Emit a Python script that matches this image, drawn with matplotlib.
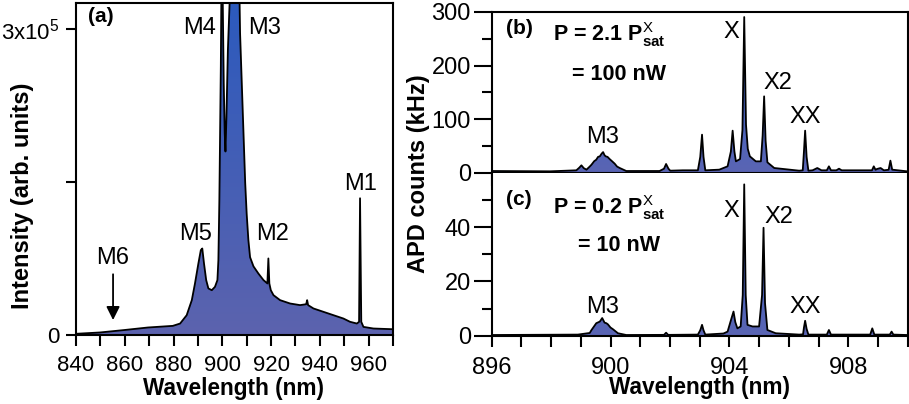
import numpy as np
import matplotlib
matplotlib.use("Agg")
import matplotlib.pyplot as plt
from matplotlib.colors import LinearSegmentedColormap

plt.rcParams['font.family'] = 'Liberation Sans'
plt.rcParams['mathtext.fontset'] = 'custom'
plt.rcParams['mathtext.rm'] = 'Liberation Sans'
plt.rcParams['mathtext.bf'] = 'Liberation Sans:bold'
plt.rcParams['mathtext.it'] = 'Liberation Sans:italic'

# (a) spectre large : longueur d'onde (nm) et intensité (milliers de coups)
longueur_a = [840.0, 849.8, 859.4, 869.5, 879.7, 882.7, 885.4, 887.5, 888.8, 890.2,
              891.2, 891.8, 892.5, 893.4, 894.3, 895.7, 897.0, 898.0, 898.4, 898.8,
              899.4, 899.9, 900.2, 900.6, 901.0, 901.3, 901.7, 902.3, 903.0, 903.6,
              905.0, 906.6, 907.1, 907.3, 908.0, 908.7, 909.4, 910.0, 910.7, 911.4,
              912.8, 914.8, 916.9, 918.5, 918.9, 919.3, 919.9, 921.0, 923.7, 927.8,
              931.9, 934.4, 934.8, 935.2, 937.4, 941.5, 945.6, 949.7, 952.4, 955.2,
              956.1, 956.5, 957.0, 957.9, 962.0, 970.0]
intensite_a = [0.7, 2.0, 4.3, 6.9, 8.5, 10.8, 19.0, 33.8, 50.2, 69.9,
               83.0, 84.6, 69.9, 53.5, 45.3, 43.6, 46.9, 53.5, 73.1, 132,
               263, 420, 326, 247, 198, 180, 214, 280, 326, 380,
               480, 380, 326, 296, 247, 198, 149, 119, 93, 76,
               67, 60, 53.5, 50.2, 74.8, 50.2, 43.6, 38.7, 33.8, 30.5,
               28.9, 29.8, 33.8, 28.9, 25.6, 22.3, 19.0, 15.7, 12.5, 10.8,
               12.5, 134, 12.5, 7.5, 5.9, 5.2]

# (b) P = 2.1 Psat : comptes APD (kHz)
longueur_b = [896.0, 897.96, 898.85, 898.95, 899.02, 899.10, 899.19, 899.30, 899.36, 899.45,
              899.52, 899.58, 899.64, 899.70, 899.75, 899.80, 899.84, 899.90, 899.97, 900.05,
              900.14, 900.22, 900.31, 900.53, 901.65, 901.80, 901.87, 901.95, 902.01, 902.43,
              902.94, 903.02, 903.08, 903.13, 903.19, 903.66, 903.94, 904.05, 904.11, 904.17,
              904.22, 904.36, 904.44, 904.50, 904.56, 904.62, 904.69, 904.89, 905.06, 905.12,
              905.17, 905.22, 905.28, 905.51, 906.35, 906.47, 906.51, 906.55, 906.60, 906.66,
              906.80, 906.96, 907.10, 907.28, 907.35, 907.42, 907.60, 907.69, 907.78, 908.58,
              908.80, 908.86, 908.92, 908.97, 909.09, 909.20, 909.36, 909.42, 909.48, 909.98]
apd_b = [3.7, 3.1, 5.0, 10.0, 14.3, 9.0, 6.2, 12.0, 15.5, 22.0,
         24.8, 30.0, 31.0, 36.0, 39.0, 33.0, 31.0, 30.0, 26.0, 22.0,
         17.4, 12.0, 9.3, 3.7, 3.7, 8.0, 16.8, 8.0, 4.3, 5.0,
         5.0, 30.0, 71.4, 30.0, 5.0, 6.2, 12.4, 40.0, 78.9, 40.0,
         21.7, 26.0, 80.0, 290.6, 90.0, 45.0, 31.0, 21.7, 21.7, 70.0,
         142.8, 60.0, 19.9, 9.3, 4.3, 5.0, 40.0, 78.9, 30.0, 4.3,
         5.0, 9.3, 5.0, 5.0, 12.4, 5.0, 5.0, 8.0, 5.0, 5.0,
         5.0, 12.4, 6.0, 7.5, 9.3, 5.0, 6.0, 23.0, 6.2, 3.1]

# (c) P = 0.2 Psat : comptes APD (kHz)
longueur_c = [896.0, 898.9, 899.3, 899.36, 899.45, 899.52, 899.60, 899.64, 899.72, 899.80,
              899.86, 899.91, 900.00, 900.08, 900.25, 900.53, 901.80, 901.87, 901.94, 902.94,
              903.02, 903.08, 903.13, 903.19, 903.80, 903.94, 904.06, 904.14, 904.20, 904.27,
              904.38, 904.45, 904.50, 904.55, 904.61, 904.78, 905.00, 905.10, 905.15, 905.20,
              905.28, 905.56, 906.35, 906.48, 906.51, 906.55, 906.60, 906.66, 907.28, 907.35,
              907.42, 908.74, 908.81, 908.88, 909.40, 909.46, 909.52, 909.98]
apd_c = [0.25, 0.4, 1.0, 2.1, 3.5, 4.6, 5.0, 5.2, 6.5, 4.8,
         4.6, 4.2, 3.0, 2.4, 0.9, 0.25, 0.3, 1.1, 0.3, 0.4,
         2.0, 4.0, 2.0, 0.4, 0.8, 1.5, 6.0, 8.9, 5.0, 2.7,
         3.4, 15.0, 55.8, 15.0, 4.0, 3.4, 3.4, 15.0, 39.8, 12.0,
         2.1, 0.9, 0.4, 0.5, 3.0, 5.5, 2.5, 0.4, 0.4, 2.1,
         0.4, 0.4, 2.7, 0.4, 0.4, 1.5, 0.4, 0.25]

graduations_a = [840, 850, 860, 870, 880, 890, 900, 910, 920, 930, 940, 950, 960, 970]
etiquettes_a = ['840', '', '860', '', '880', '', '900', '', '920', '', '940', '', '960', '']
graduations_bc = [896, 900, 904, 908]


# Remplir sous la courbe avec un dégradé vertical, puis tracer le contour noir
def remplir_degrade(ax, x, y, bas, haut, ymax):
    zone = ax.fill_between(x, 0, y, facecolor='none', edgecolor='none')
    cmap = LinearSegmentedColormap.from_list('degrade', [bas, haut])
    img = ax.imshow(np.linspace(0, 1, 256).reshape(-1, 1), cmap=cmap, origin='lower',
                    aspect='auto', extent=[x[0], x[-1], 0, ymax], zorder=1,
                    interpolation='bilinear')
    img.set_clip_path(zone.get_paths()[0], transform=ax.transData)
    ax.plot(x, y, color='black', lw=1.3, zorder=3)


def styler(ax, taille=16):
    for s in ax.spines.values():
        s.set_linewidth(1.5)
    ax.tick_params(direction='out', width=1.5, labelsize=taille)


fig = plt.figure(figsize=(9.09, 4.04), dpi=100)

# Panneau (a)
ax_a = fig.add_axes([0.0836, 0.172, 0.3487, 0.8205])
remplir_degrade(ax_a, longueur_a, intensite_a, '#5c63ae', '#2c5abd', 326)
ax_a.set_xlim(840, 970)
ax_a.set_ylim(0, 326)
styler(ax_a)
ax_a.set_xticks(graduations_a)
ax_a.set_xticklabels(etiquettes_a)
ax_a.set_yticks([0, 150, 300])
ax_a.set_yticklabels(['0', '', r'3x10$^5$'])
ax_a.tick_params(axis='x', length=8, pad=7)
ax_a.tick_params(axis='y', length=7, pad=5)
ax_a.text(0.038, 0.958, '(a)', transform=ax_a.transAxes, fontsize=15, fontweight='bold', va='center')
for nom, x, y in [('M4', 890.8, 301), ('M3', 917.5, 301), ('M5', 889.2, 99),
                  ('M2', 920.7, 99), ('M1', 956.7, 148.5), ('M6', 855.2, 75)]:
    ax_a.text(x, y, nom, fontsize=17, ha='center', va='center')
ax_a.annotate('', xy=(855.2, 11.5), xytext=(855.2, 62),
              arrowprops=dict(arrowstyle='-|>', color='black', lw=1.3, mutation_scale=20))

# Panneau (b)
ax_b = fig.add_axes([0.5409, 0.5718, 0.4576, 0.3985])
remplir_degrade(ax_b, longueur_b, apd_b, '#5a65b3', '#2f62d0', 300)
ax_b.set_xlim(896, 910)
ax_b.set_ylim(0, 300)
styler(ax_b, 17)
ax_b.set_xticks(graduations_bc)
ax_b.set_xticks(np.arange(896, 911), minor=True)
ax_b.set_yticks([0, 100, 200, 300])
ax_b.set_yticks([50, 150, 250], minor=True)
ax_b.tick_params(axis='x', which='both', length=9, width=1.5, labelbottom=False)
ax_b.tick_params(axis='y', which='major', length=13, pad=2)
ax_b.tick_params(axis='y', which='minor', length=7, width=1.5)

# Panneau (c)
ax_c = fig.add_axes([0.5409, 0.1691, 0.4576, 0.4027])
remplir_degrade(ax_c, longueur_c, apd_c, '#5a65b3', '#2f62d0', 60)
ax_c.set_xlim(896, 910)
ax_c.set_ylim(0, 60)
styler(ax_c, 17)
ax_c.spines['top'].set_visible(False)
ax_c.set_xticks(graduations_bc)
ax_c.set_xticks(np.arange(896, 911), minor=True)
ax_c.set_yticks([0, 20, 40])
ax_c.set_yticks([10, 30, 50], minor=True)
ax_c.tick_params(axis='x', which='both', length=8, width=1.5, pad=7)
ax_c.tick_params(axis='y', which='major', length=13, pad=2)
ax_c.tick_params(axis='y', which='minor', length=7, width=1.5)

# Textes des panneaux (b) et (c)
for ax, lettre, y_let, p_txt, y_p, w_txt, x_w, y_w in [
        (ax_b, '(b)', 0.90, r'P = 2.1 P$^{\mathrm{X}}_{\mathbf{sat}}$', 0.86, '= 100 nW', 0.193, 0.609),
        (ax_c, '(c)', 0.835, r'P = 0.2 P$^{\mathrm{X}}_{\mathbf{sat}}$', 0.79, '= 10 nW', 0.207, 0.557)]:
    ax.text(0.034, y_let, lettre, transform=ax.transAxes, fontsize=15, fontweight='bold', va='center')
    ax.text(0.147, y_p, p_txt, transform=ax.transAxes, fontsize=15.5, fontweight='bold', va='center')
    ax.text(x_w, y_w, w_txt, transform=ax.transAxes, fontsize=15.5, fontweight='bold', va='center')

for ax, etiquettes in [(ax_b, [('X', 904.05, 262.7), ('X2', 905.64, 167.7), ('XX', 906.55, 104), ('M3', 899.72, 67)]),
                       (ax_c, [('X', 904.05, 45.9), ('X2', 905.67, 43.6), ('XX', 906.55, 10.7), ('M3', 899.72, 10.7)])]:
    for nom, x, y in etiquettes:
        ax.text(x, y, nom, fontsize=17, ha='center', va='center')

fig.text(0.0253, 0.515, 'Intensity (arb. units)', rotation=90, fontsize=17, fontweight='bold',
         ha='center', va='center')
fig.text(0.46, 0.569, 'APD counts (kHz)', rotation=90, fontsize=17, fontweight='bold',
         ha='center', va='center')
fig.text(0.2574, 0.039, 'Wavelength (nm)', fontsize=16.3, fontweight='bold', ha='center', va='center')
fig.text(0.770, 0.040, 'Wavelength (nm)', fontsize=16.3, fontweight='bold', ha='center', va='center')

fig.savefig('out.png', dpi=100)
